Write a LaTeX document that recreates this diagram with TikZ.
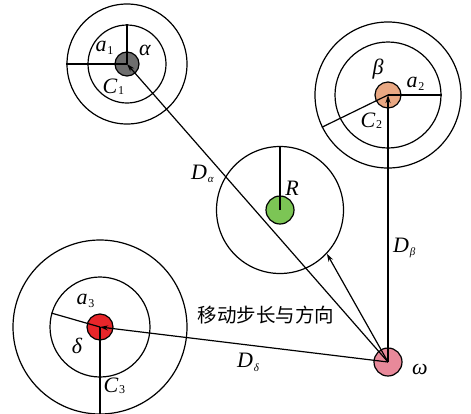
\documentclass[tikz,border=0pt]{standalone}
\usepackage{fontspec}
\setmainfont{Liberation Serif}
\newfontfamily\cjk{Noto Sans CJK SC}
\usetikzlibrary{arrows.meta}
\definecolor{cgray}{HTML}{6E6E6E}
\definecolor{cbeta}{HTML}{E9A883}
\definecolor{cgreen}{HTML}{7CC555}
\definecolor{cred}{HTML}{E8262A}
\definecolor{cpink}{HTML}{E8899A}
\tikzset{
  ring/.style={circle,draw=black,line width=1.2pt,inner sep=0pt,minimum size=#1},
  dot/.style={circle,draw=black,line width=1.2pt,inner sep=0pt,minimum size=#1},
  ln/.style={line width=1.2pt},
  arr/.style={line width=1.2pt,-{Stealth[length=8pt,width=5pt]}},
  lbl/.style={inner sep=0pt,font=\fontsize{22}{22}\selectfont\itshape},
  sub/.style={inner sep=0pt,anchor=west,font=\fontsize{12}{12}\selectfont},
  gsub/.style={inner sep=0pt,anchor=west,font=\fontsize{11}{11}\selectfont\itshape},
}
\begin{document}
\begin{tikzpicture}[x=1pt,y=-1pt]
\useasboundingbox (0,0) rectangle (471,413);
\fill[white] (0,0) rectangle (471,413);
% alpha group
\node[ring=120] (alO) at (127,64) {};
\node[ring=78] (alI) at (127,64) {};
\node[dot=24,fill=cgray] (al) at (127,64) {};
% beta group
\node[ring=146] (beO) at (388,95) {};
\node[ring=106] (beI) at (388,95) {};
\node[dot=26,fill=cbeta] (be) at (388,95) {};
% R group
\node[ring=127] (RO) at (280,210) {};
\node[dot=28,fill=cgreen] (Rc) at (280,210) {};
% delta group
\node[ring=174] (deO) at (100,327) {};
\node[ring=100] (deI) at (100,327) {};
\node[dot=26,fill=cred] (de) at (100,327) {};
% omega
\node[dot=28,fill=cpink] (w) at (388,362) {};
% radius lines
\draw[ln] (al.center) -- (alI.north);
\draw[ln] (al.center) -- (alO.west);
\draw[ln] (be.center) -- (beI.east);
\draw[ln] (be.center) -- (beO.206);
\draw[ln] (Rc.center) -- (RO.north);
\draw[ln] (de.center) -- (deI.164);
\draw[ln] (de.center) -- (deO.south);
% arrows from omega
\draw[arr] (w.center) -- (al.center);
\draw[arr] (w.center) -- (be.center);
\draw[arr] (w.center) -- (de.center);
\draw[arr] (w.center) -- (RO.-43);
% labels
\node[lbl] (la1) at (101,46) {a};
\node[sub] at ([xshift=0.5pt,yshift=-5pt]la1.east) {1};
\node[lbl] (lal) at (145,50) {α};
\node[lbl] (lC1) at (110,86) {C};
\node[sub] at ([xshift=0.5pt,yshift=-5pt]lC1.east) {1};
\node[lbl] (lbe) at (378,69) {β};
\node[lbl] (la2) at (412,82) {a};
\node[sub] at ([xshift=0.5pt,yshift=-5pt]la2.east) {2};
\node[lbl] (lC2) at (368,120) {C};
\node[sub] at ([xshift=0.5pt,yshift=-5pt]lC2.east) {2};
\node[lbl] (lR) at (292,188) {R};
\node[lbl] (lDa) at (199,172) {D};
\node[gsub] at ([xshift=0.5pt,yshift=-8pt]lDa.east) {α};
\node[lbl] (lDb) at (401,245) {D};
\node[gsub] at ([xshift=0.5pt,yshift=-8pt]lDb.east) {β};
\node[lbl] (la3) at (82,299) {a};
\node[sub] at ([xshift=0.5pt,yshift=-5pt]la3.east) {3};
\node[lbl] (ld) at (77,346) {δ};
\node[lbl] (lC3) at (111,385) {C};
\node[sub] at ([xshift=0.5pt,yshift=-5pt]lC3.east) {3};
\node[lbl] (lDd) at (245,360) {D};
\node[gsub] at ([xshift=0.5pt,yshift=-8pt]lDd.east) {δ};
\node[inner sep=0pt,font=\cjk\fontsize{19.5}{19.5}\selectfont] (cn) at (266,315) {移动步长与方向};
\node[lbl] (lw) at (420,369) {ω};
\end{tikzpicture}
\end{document}
